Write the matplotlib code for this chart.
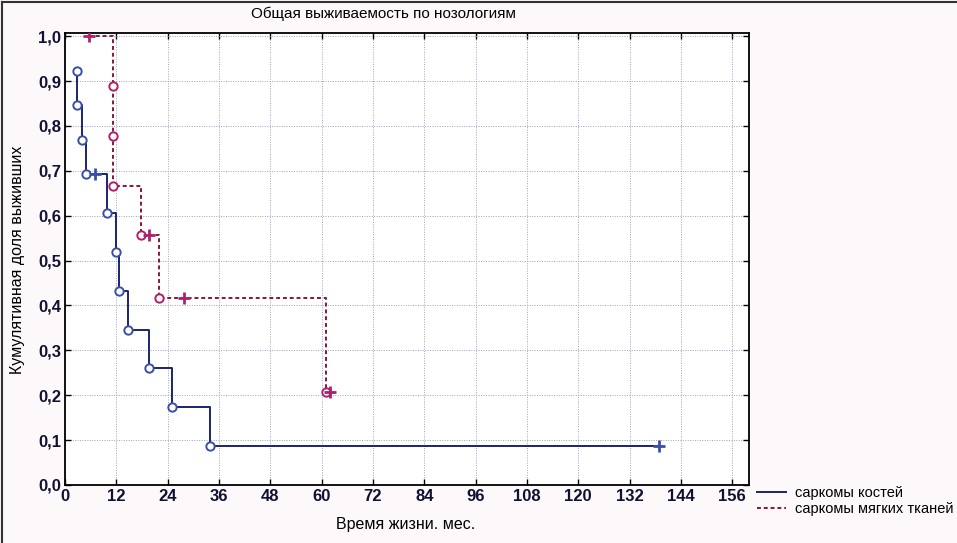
import matplotlib
matplotlib.use("Agg")
import matplotlib.pyplot as plt
from matplotlib.lines import Line2D

plt.rcParams['font.family'] = ['Liberation Sans', 'DejaVu Sans']

# саркомы костей: время (мес.), кумулятивная доля, цензурировано (1) или событие (0)
bone_time = [2.7, 2.7, 4.0, 4.8, 6.9, 9.9, 11.9, 12.7, 14.8, 19.7, 24.9, 33.9, 138.8]
bone_surv = [0.923, 0.846, 0.769, 0.692, 0.692, 0.606, 0.519, 0.433, 0.346, 0.260, 0.173, 0.087, 0.087]
bone_cens = [0, 0, 0, 0, 1, 0, 0, 0, 0, 0, 0, 0, 1]

# саркомы мягких тканей
soft_time = [5.6, 11.1, 11.1, 11.1, 17.8, 19.7, 21.9, 27.9, 61.0, 61.9]
soft_surv = [1.0, 0.889, 0.778, 0.667, 0.556, 0.556, 0.417, 0.417, 0.208, 0.208]
soft_cens = [1, 0, 0, 0, 0, 1, 0, 1, 0, 1]

x_ticks = list(range(0, 157, 12))
y_ticks = [i / 10 for i in range(11)]

blue = '#1c2470'
red = '#8a1538'
marker_blue = '#3a4fa8'
marker_red = '#b0206a'
soft_dashes = (2, 1.5)

fig = plt.figure(figsize=(9.57, 5.43), dpi=100, facecolor='#fdf8f9')
ax = fig.add_axes([0.068, 0.107, 0.715, 0.832])
ax.set_facecolor('white')


def draw_km(ax, t, s, c, color, mcolor, dashes=None):
    line, = ax.plot(t, s, drawstyle='steps-post', color=color, linewidth=1.4)
    if dashes:
        line.set_dashes(dashes)
    ev_t = [x for x, f in zip(t, c) if f == 0]
    ev_s = [y for y, f in zip(s, c) if f == 0]
    ce_t = [x for x, f in zip(t, c) if f == 1]
    ce_s = [y for y, f in zip(s, c) if f == 1]
    ax.plot(ev_t, ev_s, 'o', markersize=6, markerfacecolor='white',
            markeredgecolor=mcolor, markeredgewidth=1.4, linestyle='none', zorder=4)
    ax.plot(ce_t, ce_s, '+', markersize=8, markeredgecolor=mcolor,
            markeredgewidth=2, linestyle='none', zorder=4)


draw_km(ax, bone_time, bone_surv, bone_cens, blue, marker_blue)
draw_km(ax, soft_time, soft_surv, soft_cens, red, marker_red, soft_dashes)

ax.set_xlim(0, 160)
ax.set_ylim(0, 1.007)
ax.set_xticks(x_ticks)
ax.set_yticks(y_ticks)
ax.set_yticklabels([f"{v:.1f}".replace('.', ',') for v in y_ticks])
ax.tick_params(direction='in', top=True, right=True, length=4, width=1,
               labelsize=12, pad=3)
for lbl in ax.get_xticklabels() + ax.get_yticklabels():
    lbl.set_fontweight('bold')
    lbl.set_color('#111133')
ax.grid(True, color='#9aa2c8', linestyle=(0, (1, 1.5)), linewidth=0.7)
for sp in ax.spines.values():
    sp.set_linewidth(1.3)

fig.text(383 / 957, 1 - 14 / 543, 'Общая выживаемость по нозологиям',
         ha='center', va='center', fontsize=11)
fig.text(406 / 957, 1 - 525 / 543, 'Время жизни. мес.',
         ha='center', va='center', fontsize=11.5)
fig.text(18 / 957, 1 - 260 / 543, 'Кумулятивная доля выживших',
         ha='center', va='center', rotation=90, fontsize=11.5)

handles = [Line2D([], [], color=blue, linewidth=1.4),
           Line2D([], [], color=red, linewidth=1.4, dashes=soft_dashes)]
fig.legend(handles, ['саркомы костей', 'саркомы мягких тканей'],
           loc='center left', bbox_to_anchor=(0.791, 1 - 501 / 543),
           frameon=False, fontsize=10.5, handlelength=2.0, handletextpad=0.6,
           labelspacing=0.15, borderaxespad=0, borderpad=0)

# рамка рисунка сверху и слева
fig.add_artist(Line2D([0.002, 0.002], [0, 0.997], transform=fig.transFigure,
                      color='#333333', linewidth=1.5))
fig.add_artist(Line2D([0.002, 1], [0.997, 0.997], transform=fig.transFigure,
                      color='#333333', linewidth=1.5))

fig.savefig('out.png', dpi=100, facecolor=fig.get_facecolor())
